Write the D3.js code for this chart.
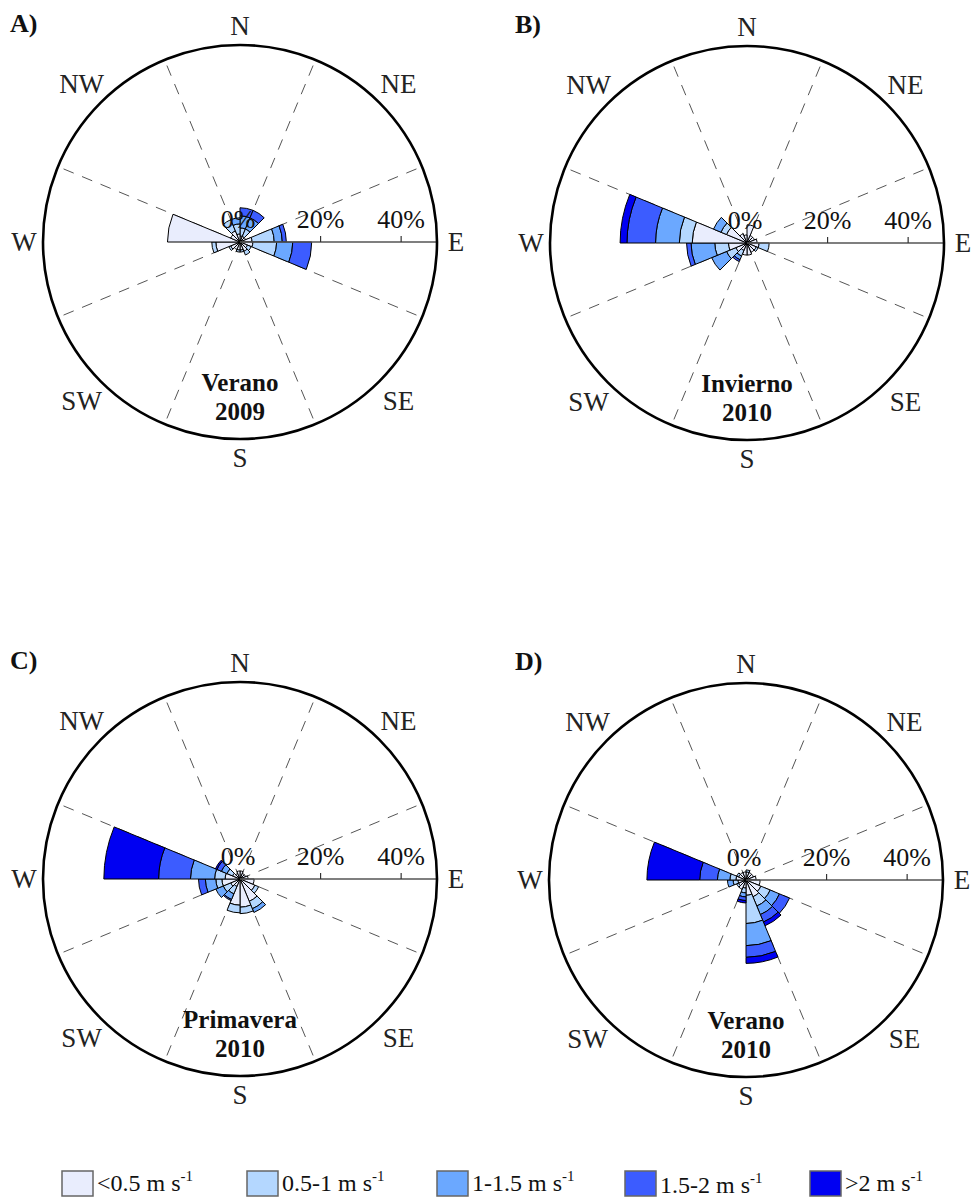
<!DOCTYPE html>
<html>
<head>
<meta charset="utf-8">
<script src="https://cdn.jsdelivr.net/npm/d3@7"></script>
<style>
  body { margin: 0; background: #fff; }
  svg { display: block; }
</style>
</head>
<body>
<svg id="chart" width="971" height="1199" font-family="'Liberation Serif', 'Times New Roman', serif"></svg>
<script>
// Wind speed classes (stack order from the centre outwards)
const speedClasses = ["<0.5", "0.5-1", "1-1.5", "1.5-2", ">2"];
const classColors = ["#e9edfd", "#b4d7ff", "#6ba8ff", "#3c5cff", "#0000f2"];

// 16 direction bins, bin k spans [k*22.5°, (k+1)*22.5°] clockwise from N
const binStart = d3.range(16).map(k => k * 22.5);

const compassLabels = ["N", "NE", "E", "SE", "S", "SW", "W", "NW"];
const ringTicks = [0, 20, 40];

// Frequency (%) per bin, one row per speed class
const veranoA = [
  [1.5, 1.5, 1.5, 3.0, 3.2, 2.0, 2.5, 2.0, 2.0, 2.0, 2.5, 6.0, 18.0, 2.5, 3.0, 2.0],
  [2.0, 2.0, 0.0, 5.5, 5.9, 1.0, 1.0, 0.5, 0.5, 0.0, 0.5, 1.0, 0.0, 0.0, 3.0, 2.5],
  [3.0, 3.0, 0.0, 2.0, 4.0, 0.0, 0.0, 0.0, 0.0, 0.0, 0.0, 0.0, 0.0, 0.0, 0.0, 1.5],
  [2.0, 2.0, 0.0, 1.0, 4.7, 0.0, 0.0, 0.0, 0.0, 0.0, 0.0, 0.0, 0.0, 0.0, 0.0, 0.0],
  [0.0, 0.0, 0.0, 0.0, 0.0, 0.0, 0.0, 0.0, 0.0, 0.0, 0.0, 0.0, 0.0, 0.0, 0.0, 0.0]
];
const inviernoB = [
  [4.5, 2.0, 2.0, 2.5, 3.0, 2.5, 2.5, 3.0, 3.0, 2.0, 3.0, 4.6, 13.6, 5.5, 2.5, 2.0],
  [0.0, 0.0, 0.0, 0.0, 2.5, 0.5, 0.0, 0.0, 0.0, 1.5, 2.5, 3.4, 3.2, 1.5, 0.0, 0.0],
  [0.0, 0.0, 0.0, 0.0, 0.0, 0.0, 0.0, 0.0, 0.0, 1.0, 4.0, 5.9, 5.9, 2.0, 0.0, 0.0],
  [0.0, 0.0, 0.0, 0.0, 0.0, 0.0, 0.0, 0.0, 0.0, 0.5, 0.0, 1.1, 7.1, 0.0, 0.0, 0.0],
  [0.0, 0.0, 0.0, 0.0, 0.0, 0.0, 0.0, 0.0, 0.0, 0.0, 0.0, 0.0, 1.7, 0.0, 0.0, 0.0]
];
const primaveraC = [
  [2.0, 1.5, 1.5, 2.0, 3.5, 4.0, 6.0, 7.0, 6.5, 2.0, 2.5, 4.5, 3.7, 2.0, 1.5, 2.0],
  [0.0, 0.0, 0.0, 0.0, 0.0, 1.0, 2.0, 1.6, 1.9, 2.0, 2.0, 1.5, 2.6, 1.5, 0.0, 0.0],
  [0.0, 0.0, 0.0, 0.0, 0.0, 0.0, 1.0, 0.0, 0.0, 1.5, 2.0, 2.6, 6.0, 1.5, 0.0, 0.0],
  [0.0, 0.0, 0.0, 0.0, 0.0, 0.0, 0.0, 0.0, 0.0, 0.3, 0.0, 1.7, 7.9, 1.2, 0.0, 0.0],
  [0.0, 0.0, 0.0, 0.0, 0.0, 0.0, 0.0, 0.0, 0.0, 0.0, 0.0, 0.0, 13.6, 0.4, 0.0, 0.0]
];
const veranoD = [
  [2.0, 2.0, 2.0, 2.5, 3.5, 4.0, 4.5, 3.8, 2.0, 2.5, 2.0, 2.0, 2.5, 2.0, 2.0, 2.0],
  [0.5, 0.0, 0.0, 0.0, 0.0, 2.5, 2.5, 7.0, 1.2, 0.0, 0.5, 1.2, 1.5, 0.5, 0.0, 0.0],
  [0.0, 0.0, 0.0, 0.0, 0.0, 2.5, 2.3, 5.5, 1.0, 0.0, 0.0, 1.4, 3.1, 0.0, 0.0, 0.0],
  [0.0, 0.0, 0.0, 0.0, 0.0, 2.7, 2.0, 2.9, 0.9, 0.0, 0.0, 0.0, 4.4, 0.0, 0.0, 0.0],
  [0.0, 0.0, 0.0, 0.0, 0.0, 0.0, 1.0, 1.5, 0.6, 0.0, 0.0, 0.0, 13.1, 0.0, 0.0, 0.0]
];

const panelLetters = ["A)", "B)", "C)", "D)"];
const panelTitles = [["Verano", "2009"], ["Invierno", "2010"], ["Primavera", "2010"], ["Verano", "2010"]];
const panelData = [veranoA, inviernoB, primaveraC, veranoD];

const svg = d3.select("#chart");
const outerR = 197;
const r = d3.scaleLinear().domain([0, 48.9]).range([0, outerR]);
const centers = [[240, 242], [747, 243], [240, 879], [746, 880]];
const toRad = deg => deg * Math.PI / 180;

panelData.forEach((rows, p) => {
  const [cx, cy] = centers[p];
  const g = svg.append("g").attr("transform", `translate(${cx},${cy})`);

  // dashed spokes on the odd multiples of 22.5°
  g.selectAll("line.spoke")
    .data(d3.range(8).map(i => 22.5 + i * 45))
    .join("line")
    .attr("x1", 0).attr("y1", 0)
    .attr("x2", d => outerR * Math.sin(toRad(d)))
    .attr("y2", d => -outerR * Math.cos(toRad(d)))
    .attr("stroke", "#555").attr("stroke-width", 1)
    .attr("stroke-dasharray", "11,9");

  // stacked sectors
  const stacked = [];
  binStart.forEach((a, k) => {
    let base = 0;
    rows.forEach((row, c) => {
      const v = row[k];
      if (v > 0) {
        stacked.push({ a0: a, a1: a + 22.5, r0: base, r1: base + v, c });
        base += v;
      }
    });
  });
  const arc = d3.arc()
    .innerRadius(d => r(d.r0))
    .outerRadius(d => r(d.r1))
    .startAngle(d => toRad(d.a0))
    .endAngle(d => toRad(d.a1));
  g.selectAll("path.sector")
    .data(stacked)
    .join("path")
    .attr("d", arc)
    .attr("fill", d => classColors[d.c])
    .attr("stroke", "#000").attr("stroke-width", 1)
    .attr("stroke-linejoin", "round");

  // east axis with percentage ticks
  g.append("line")
    .attr("x1", 0).attr("y1", 0).attr("x2", outerR).attr("y2", 0)
    .attr("stroke", "#555").attr("stroke-width", 1.5);
  g.selectAll("line.tick")
    .data(ringTicks.filter(t => t > 0))
    .join("line")
    .attr("x1", d => r(d)).attr("x2", d => r(d))
    .attr("y1", 0).attr("y2", -6)
    .attr("stroke", "#333").attr("stroke-width", 1.2);
  g.selectAll("text.pct")
    .data(ringTicks)
    .join("text")
    .attr("x", d => r(d) - (d === 0 ? 2 : 0))
    .attr("y", -14)
    .attr("text-anchor", "middle")
    .attr("font-size", 26)
    .attr("fill", "#111")
    .text(d => d + "%");

  // outer ring
  g.append("circle").attr("r", outerR)
    .attr("fill", "none").attr("stroke", "#000").attr("stroke-width", 2.6);

  // compass labels
  g.selectAll("text.dir")
    .data(compassLabels)
    .join("text")
    .attr("x", (d, i) => (i % 2 ? 224 : 216) * Math.sin(toRad(i * 45)))
    .attr("y", (d, i) => -(i % 2 ? 224 : 216) * Math.cos(toRad(i * 45)))
    .attr("text-anchor", "middle")
    .attr("dy", "0.35em")
    .attr("font-size", 27)
    .attr("fill", "#222")
    .text(d => d);

  // season title
  g.selectAll("text.title")
    .data(panelTitles[p])
    .join("text")
    .attr("x", 0)
    .attr("y", (d, i) => 149 + i * 29)
    .attr("text-anchor", "middle")
    .attr("font-size", 25)
    .attr("font-weight", "bold")
    .attr("fill", "#111")
    .text(d => d);

  // panel letter
  svg.append("text")
    .attr("x", p % 2 ? 515 : 10)
    .attr("y", cy - 210)
    .attr("font-size", 26)
    .attr("font-weight", "bold")
    .attr("fill", "#111")
    .text(panelLetters[p]);
});

// legend
const legendX = [62, 247, 437, 625, 810];
const legend = svg.append("g");
speedClasses.forEach((name, i) => {
  const lg = legend.append("g").attr("transform", `translate(${legendX[i]},1171)`);
  lg.append("rect").attr("width", 31).attr("height", 25)
    .attr("fill", classColors[i]).attr("stroke", "#666").attr("stroke-width", 1.5);
  const t = lg.append("text").attr("x", 35).attr("y", i === 3 ? 22 : 20)
    .attr("font-size", 24).attr("fill", "#111");
  t.append("tspan").text(name + " m s");
  t.append("tspan").attr("font-size", 15).attr("dy", -10).text("-1");
});
</script>
</body>
</html>
